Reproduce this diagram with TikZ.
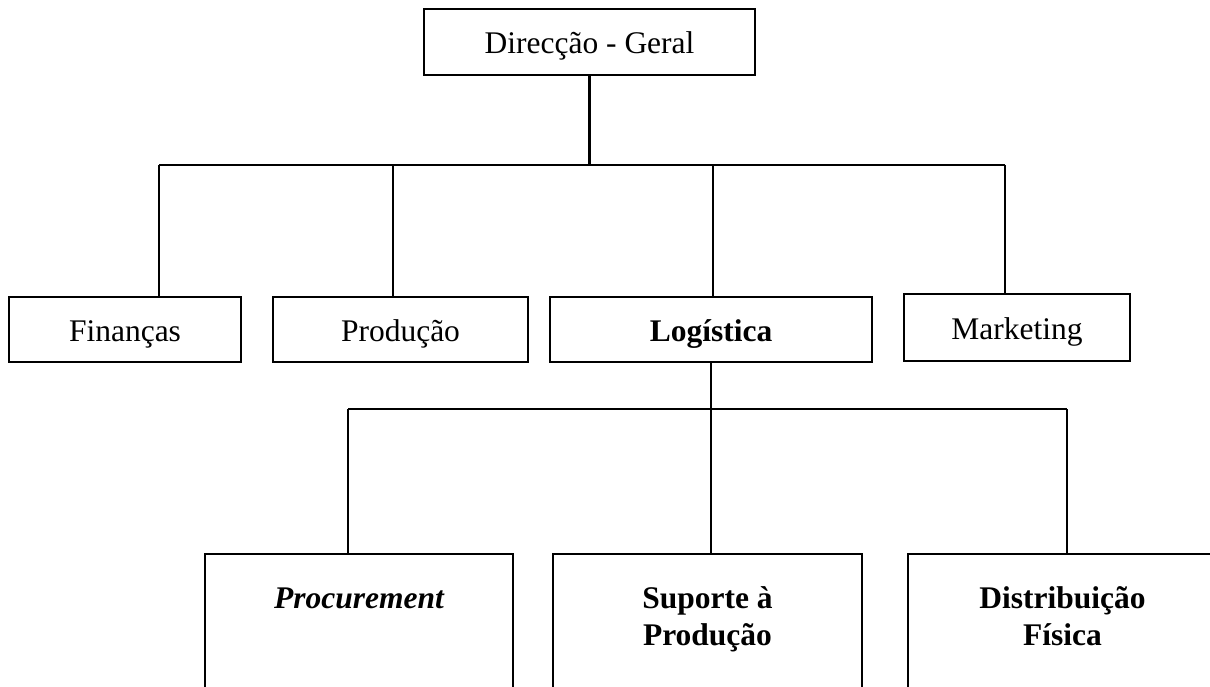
\documentclass[tikz,border=0pt]{standalone}
\usepackage{fontspec}
\setmainfont{Liberation Serif}
\begin{document}
\begin{tikzpicture}[x=1pt, y=-1pt,
  box/.style={draw, rectangle, line width=2.2pt, inner sep=0pt},
  wire/.style={line width=2.2pt},
  lbl/.style={font=\fontsize{31.5}{37}\selectfont, text height=31pt, text depth=7pt},
  toplbl/.style={font=\fontsize{31.5}{37}\selectfont\bfseries, align=center, anchor=north, inner sep=0pt}]
\clip (0,0) rectangle (1210,687);
\fill[white] (0,0) rectangle (1210,687);

% top level
\node[box, lbl, minimum width=331pt, minimum height=66pt] (dg) at (589.5,42) {Direcção - Geral};

% departments
\node[box, lbl, minimum width=232pt, minimum height=65pt] (fin) at (125,329.5) {Finanças};
\node[box, lbl, minimum width=255pt, minimum height=65pt] (prod) at (400.5,329.5) {Produção};
\node[box, lbl, minimum width=322pt, minimum height=65pt] (log) at (711,329.5) {\bfseries Logística};
\node[box, lbl, minimum width=226pt, minimum height=67pt] (mkt) at (1017,327.5) {Marketing};

% logistics areas (boxes run past the lower edge)
\node[box, minimum width=308pt, minimum height=170pt, anchor=north] (proc) at (359,553) {};
\node[box, minimum width=309pt, minimum height=170pt, anchor=north] (sup) at (707.5,553) {};
\node[box, minimum width=309pt, minimum height=170pt, anchor=north] (dist) at (1062.5,553) {};
\node[toplbl] (procT) at ([yshift=-29pt]proc.north) {\strut\itshape Procurement};
\node[toplbl] (supT) at ([yshift=-29pt]sup.north) {\strut Suporte à\\Produção};
\node[toplbl] (distT) at ([yshift=-29pt]dist.north) {\strut Distribuição\\Física};

% upper bus
\coordinate (busA) at (159,165);
\coordinate (busB) at (393,165);
\coordinate (busC) at (713,165);
\coordinate (busD) at (1005,165);
\draw[wire] (dg.south) -- (dg.south |- busA);
\draw[wire] (busA) -- (busD);
\draw[wire] (busA) -- (busA |- fin.north);
\draw[wire] (busB) -- (busB |- prod.north);
\draw[wire] (busC) -- (busC |- log.north);
\draw[wire] (busD) -- (busD |- mkt.north);

% lower bus
\coordinate (busE) at (348,409);
\coordinate (busF) at (711,409);
\coordinate (busG) at (1067,409);
\draw[wire] (log.south) -- (log.south |- busF);
\draw[wire] (busE) -- (busG);
\draw[wire] (busE) -- (busE |- proc.north);
\draw[wire] (busF) -- (busF |- sup.north);
\draw[wire] (busG) -- (busG |- dist.north);
\end{tikzpicture}
\end{document}
